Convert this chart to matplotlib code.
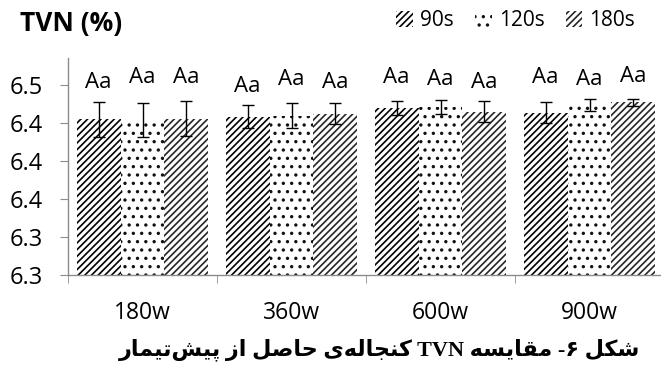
import numpy as np
import matplotlib
matplotlib.use("Agg")
import matplotlib.pyplot as plt
from matplotlib.ticker import FixedLocator, FormatStrFormatter

# TVN of the meal for each microwave power / pretreatment time
powers = ["180w", "360w", "600w", "900w"]
times = ["90s", "120s", "180s"]
tvn_90 = [6.444, 6.447, 6.456, 6.451]
tvn_120 = [6.443, 6.448, 6.457, 6.459]
tvn_180 = [6.445, 6.450, 6.452, 6.462]
err_90 = [0.018, 0.012, 0.007, 0.011]
err_120 = [0.018, 0.013, 0.007, 0.0065]
err_180 = [0.018, 0.011, 0.011, 0.004]
letters = ["Aa", "Aa", "Aa"]
label_y = [[6.477, 6.482, 6.482],
           [6.473, 6.480, 6.477],
           [6.482, 6.480, 6.477],
           [6.482, 6.480, 6.483]]
yticks = [6.28, 6.32, 6.36, 6.40, 6.44, 6.48]
caption = "شکل ۶- مقایسه TVN کنجاله\u200cی حاصل از پیش\u200cتیمار"

# contextual forms (isolated, final, initial, medial)
FORMS = {
    "\u0627": ("\uFE8D", "\uFE8E", None, None),
    "\u0631": ("\uFEAD", "\uFEAE", None, None),
    "\u0632": ("\uFEAF", "\uFEB0", None, None),
    "\u067E": ("\uFB56", "\uFB57", "\uFB58", "\uFB59"),
    "\u062A": ("\uFE95", "\uFE96", "\uFE97", "\uFE98"),
    "\u062C": ("\uFE9D", "\uFE9E", "\uFE9F", "\uFEA0"),
    "\u062D": ("\uFEA1", "\uFEA2", "\uFEA3", "\uFEA4"),
    "\u0633": ("\uFEB1", "\uFEB2", "\uFEB3", "\uFEB4"),
    "\u0634": ("\uFEB5", "\uFEB6", "\uFEB7", "\uFEB8"),
    "\u0635": ("\uFEB9", "\uFEBA", "\uFEBB", "\uFEBC"),
    "\u0642": ("\uFED5", "\uFED6", "\uFED7", "\uFED8"),
    "\u06A9": ("\uFB8E", "\uFB8F", "\uFB90", "\uFB91"),
    "\u0644": ("\uFEDD", "\uFEDE", "\uFEDF", "\uFEE0"),
    "\u0645": ("\uFEE1", "\uFEE2", "\uFEE3", "\uFEE4"),
    "\u0646": ("\uFEE5", "\uFEE6", "\uFEE7", "\uFEE8"),
    "\u0647": ("\uFEE9", "\uFEEA", "\uFEEB", "\uFEEC"),
    "\u06CC": ("\uFBFC", "\uFBFD", "\uFBFE", "\uFBFF"),
}


def shape_word(word):
    out = []
    for i, ch in enumerate(word):
        if ch not in FORMS:
            if ch != "\u200c":
                out.append(ch)
            continue
        prev = word[i - 1] if i > 0 else ""
        nxt = word[i + 1] if i + 1 < len(word) else ""
        join_prev = prev in FORMS and FORMS[prev][2] is not None
        join_next = nxt in FORMS and FORMS[ch][2] is not None
        iso, fin, ini, med = FORMS[ch]
        if join_prev and join_next:
            out.append(med)
        elif join_prev:
            out.append(fin)
        elif join_next:
            out.append(ini)
        else:
            out.append(iso)
    return "".join(out)


def rtl(text):
    words = []
    for w in text.split(" "):
        if any(c in FORMS or "\u06F0" <= c <= "\u06F9" for c in w):
            words.append(shape_word(w)[::-1])
        else:
            words.append(w)
    return " ".join(words[::-1])


plt.rcParams["font.family"] = ["Open Sans", "DejaVu Sans"]
plt.rcParams["hatch.linewidth"] = 1.2

fig = plt.figure(figsize=(6.61, 3.72), dpi=100)
ax = fig.add_axes([68 / 661, 97 / 372, 593 / 661, 217 / 372])

x = np.arange(len(powers))
w = 0.295
series = [(tvn_90, err_90, "/////", "#000000"),
          (tvn_120, err_120, "..", "#111111"),
          (tvn_180, err_180, "/////", "#262626")]
handles = []
for k, (vals, errs, hatch, col) in enumerate(series):
    xs = x + (k - 1) * w
    b = ax.bar(xs, vals, width=w, color="white", edgecolor=col,
               linewidth=0, hatch=hatch, label=times[k])
    handles.append(b)
    ax.errorbar(xs, vals, yerr=errs, fmt="none", ecolor="black",
                elinewidth=1.0, capsize=4.5, capthick=1.0)
    for i in range(len(powers)):
        ax.text(xs[i], label_y[i][k], letters[k], ha="center",
                va="baseline", fontsize=16)

ax.set_xlim(-0.5, -0.5 + 593 / 149)
ax.set_ylim(6.28, 6.5088)

ax.yaxis.set_major_locator(FixedLocator(yticks))
ax.yaxis.set_major_formatter(FormatStrFormatter("%.1f"))
ax.set_xticks(x)
ax.set_xticklabels(powers)
ax.set_xticks(np.arange(-0.5, len(powers) - 0.5, 1.0), minor=True)

for s in ["top", "right"]:
    ax.spines[s].set_visible(False)
for s in ["left", "bottom"]:
    ax.spines[s].set_color("#8c8c8c")
    ax.spines[s].set_linewidth(1.0)

ax.tick_params(axis="y", length=5.8, color="#8c8c8c", pad=12, labelsize=17)
ax.tick_params(axis="x", which="major", length=0, pad=19, labelsize=16.5)
ax.tick_params(axis="x", which="minor", length=5.8, color="#8c8c8c")

fig.text(20 / 661, 1 - 23 / 372, "TVN (%)", fontsize=19, fontweight="bold",
         ha="left", va="center")

fig.legend(handles=handles, loc="center right",
           bbox_to_anchor=(654 / 661, 1 - 21 / 372), ncol=3, frameon=False,
           fontsize=15, handlelength=0.8, handleheight=0.8,
           handletextpad=0.35, columnspacing=1.0)

fig.text(380 / 661, 1 - 350 / 372, rtl(caption), fontsize=16,
         fontweight="bold", ha="center", va="center",
         family=["Liberation Serif", "DejaVu Sans"])

fig.savefig("out.png", dpi=100)
